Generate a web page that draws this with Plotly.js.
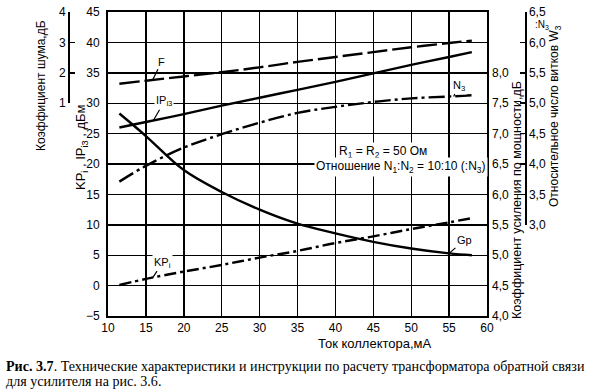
<!DOCTYPE html>
<html>
<head>
<meta charset="utf-8">
<script src="https://cdn.plot.ly/plotly-3.0.1.min.js"></script>
<style>html,body{margin:0;padding:0;background:#fff;}#chart{width:590px;height:390px;}</style>
</head>
<body>
<div id="chart"></div>
<script>
// Collector current, mA
const current = [11.5, 15, 20, 25, 30, 35, 40, 45, 50, 55, 58];
// Noise figure F, dB (left outer axis)
const noiseF = [1.64, 1.74, 1.88, 2.02, 2.18, 2.36, 2.52, 2.68, 2.84, 2.98, 3.06];
// IP_i3, dBm (main left axis)
const ipi3 = [26.0, 26.9, 28.2, 29.6, 30.9, 32.2, 33.5, 34.9, 36.3, 37.6, 38.4];
// KP_i, dBm (main left axis)
const kpi = [0.1, 1.1, 2.3, 3.4, 4.6, 5.7, 7.0, 8.1, 9.3, 10.4, 11.1];
// Power gain Gp, dB (right inner axis)
const gainGp = [7.33, 6.96, 6.40, 6.04, 5.75, 5.52, 5.36, 5.22, 5.11, 5.03, 5.00];
// Relative turns N3 (right outer axis)
const turnsN3 = [3.71, 3.97, 4.27, 4.49, 4.68, 4.84, 4.94, 5.02, 5.08, 5.11, 5.13];

const xTicks = [10, 15, 20, 25, 30, 35, 40, 45, 50, 55, 60];
const leftTicks = [-5, 0, 5, 10, 15, 20, 25, 30, 35, 40, 45];
const noiseTicks = [1, 2, 3, 4];
const gainTicks = [4.0, 4.5, 5.0, 5.5, 6.0, 6.5, 7.0, 7.5, 8.0];
const turnsTicks = [3.0, 3.5, 4.0, 4.5, 5.0, 5.5, 6.0, 6.5];

const FONT = "'Liberation Sans',Arial,sans-serif";
const SERIF = "'Liberation Serif','DejaVu Serif',serif";

// pixel helpers for placing free text (paper coordinates)
const ML = 10, MR = 10, MT = 12, MB = 74, W = 590, H = 390;
const PW = W - ML - MR, PH = H - MT - MB;
const px = v => (v - ML) / PW;
const py = v => (H - MB - v) / PH;

const traces = [
  {x: current, y: noiseF, xaxis: 'x', yaxis: 'y2', mode: 'lines', name: 'F',
   line: {color: '#000', width: 2.4, dash: '20px,5px', shape: 'spline'}},
  {x: current, y: ipi3, xaxis: 'x', yaxis: 'y', mode: 'lines', name: 'IPi3',
   line: {color: '#000', width: 2.4, shape: 'spline'}},
  {x: current, y: turnsN3, xaxis: 'x', yaxis: 'y4', mode: 'lines', name: 'N3',
   line: {color: '#000', width: 2.4, dash: '16px,4px,3px,4px', shape: 'spline'}},
  {x: current, y: gainGp, xaxis: 'x', yaxis: 'y3', mode: 'lines', name: 'Gp',
   line: {color: '#000', width: 2.4, shape: 'spline'}},
  {x: current, y: kpi, xaxis: 'x', yaxis: 'y', mode: 'lines', name: 'KPi',
   line: {color: '#000', width: 2.4, dash: '12px,4px,3px,4px', shape: 'spline'}}
];

const tickFont = {family: FONT, size: 12, color: '#000'};
const xDomain = [px(108), px(487)];

function txt(text, x, y, size, extra) {
  return Object.assign({text: text, xref: 'paper', yref: 'paper', x: px(x), y: py(y),
    xanchor: 'center', yanchor: 'middle', showarrow: false,
    font: {family: FONT, size: size, color: '#000'}}, extra || {});
}
function lbl(text, xv, yv, yref, ax, ay) {
  return {text: text, xref: 'x', yref: yref, x: xv, y: yv, ax: ax, ay: ay,
    showarrow: true, arrowhead: 0, arrowwidth: 1.2, arrowcolor: '#000', standoff: 0,
    xanchor: 'center', yanchor: 'middle', bgcolor: '#fff',
    font: {family: FONT, size: 11, color: '#000'}};
}

const layout = {
  width: W, height: H,
  margin: {l: ML, r: MR, t: MT, b: MB, pad: 0},
  paper_bgcolor: '#fff', plot_bgcolor: 'rgba(0,0,0,0)',
  showlegend: false,
  separators: ', ',
  font: {family: FONT, size: 12, color: '#000'},
  xaxis: {
    domain: xDomain, range: [10, 60], tickvals: xTicks, anchor: 'y',
    showgrid: true, gridcolor: '#000', gridwidth: 1.4,
    showline: true, linecolor: '#000', linewidth: 2, mirror: true,
    ticks: '', zeroline: false, tickfont: tickFont, fixedrange: true
  },
  yaxis: {
    domain: [0, 1], range: [-5, 45], tickvals: leftTicks, anchor: 'x',
    showgrid: true, gridcolor: '#000', gridwidth: 1.4,
    showline: true, linecolor: '#000', linewidth: 2, mirror: true,
    ticks: '', zeroline: false, tickfont: tickFont, ticklabelstandoff: 4
  },
  yaxis2: {
    domain: [0.7, 1], range: [1, 4], tickvals: noiseTicks,
    anchor: 'free', position: px(68), side: 'left',
    showgrid: false, zeroline: false,
    showline: true, linecolor: '#000', linewidth: 1.5,
    ticks: 'inside', ticklen: 5, tickwidth: 1.5, tickcolor: '#000',
    tickfont: tickFont
  },
  yaxis3: {
    overlaying: 'y', side: 'right', anchor: 'x',
    range: [4, 9], tickvals: gainTicks, tickformat: '.1f',
    showgrid: false, zeroline: false, showline: false, ticks: '',
    tickfont: tickFont, ticklabelstandoff: 4
  },
  yaxis4: {
    domain: [0.3, 1], range: [3, 6.5], tickvals: turnsTicks, tickformat: '.1f',
    anchor: 'free', position: px(525), side: 'right',
    showgrid: false, zeroline: false,
    showline: true, linecolor: '#000', linewidth: 1.5,
    ticks: 'inside', ticklen: 5, tickwidth: 1.5, tickcolor: '#000',
    tickfont: tickFont
  },
  annotations: [
    // axis titles
    txt('Коэффициент шума,дБ', 41, 86, 12, {textangle: -90}),
    txt('KP<sub>i</sub> , IP<sub>i3</sub> , дБм', 81, 147, 13, {textangle: -90}),
    txt('Коэффициент усиления по мощности,дБ', 517, 200, 12.5, {textangle: -90}),
    txt('Относительное число витков W<sub>3</sub>', 555, 116, 12, {textangle: -90}),
    txt(':N<sub>3</sub>', 542, 25, 10),
    txt('Ток коллектора,мА', 375, 343, 13),
    // box text
    txt('R<sub>1</sub> = R<sub>2</sub> = 50 Ом', 383, 152, 12, {bgcolor: '#fff'}),
    txt('Отношение N<sub>1</sub>:N<sub>2</sub> = 10:10 (:N<sub>3</sub>)', 401, 167, 12, {bgcolor: '#fff'}),
    // curve labels
    lbl('F', 15.9, 1.77, 'y2', 9, -18),
    lbl('IP<sub>i3</sub>', 16.0, 27.2, 'y', 11, -19),
    lbl('N<sub>3</sub>', 55.6, 5.11, 'y4', 5, -11),
    lbl('Gp', 55.0, 5.03, 'y3', 15, -13),
    lbl('KP<sub>i</sub>', 15.9, 1.3, 'y', 10, -15),
    // caption
    txt('<b>Рис. 3.7</b>. Технические характеристики и инструкции по расчету трансформатора обратной связи',
        4, 366, 14.1, {xanchor: 'left', font: {family: SERIF, size: 14.1, color: '#000'}}),
    txt('для усилителя на рис. 3.6.',
        4, 381, 14.1, {xanchor: 'left', font: {family: SERIF, size: 14.1, color: '#000'}})
  ]
};

Plotly.newPlot('chart', traces, layout, {staticPlot: true, displayModeBar: false});
</script>
</body>
</html>
